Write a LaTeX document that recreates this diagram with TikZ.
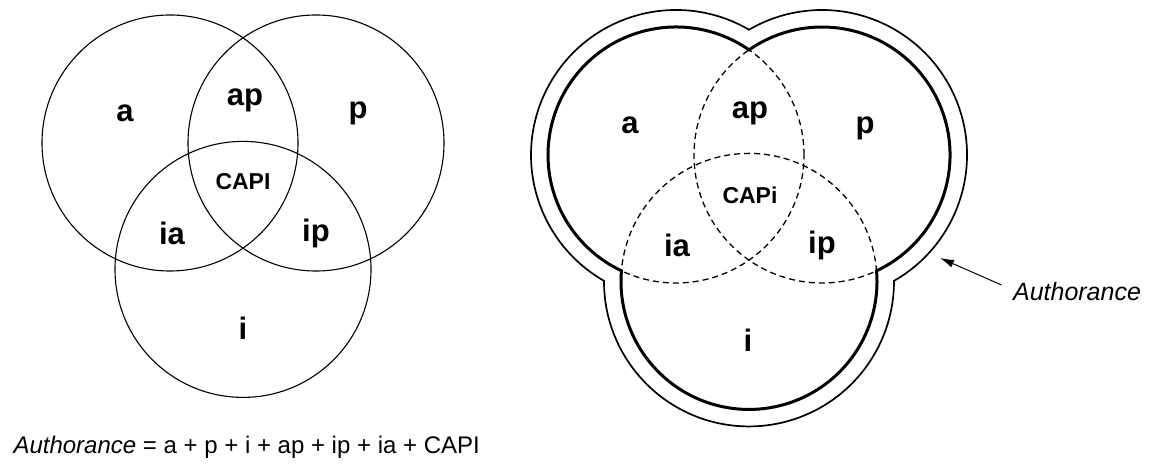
\documentclass[tikz,border=0pt]{standalone}
\usepackage{fontspec}
\setmainfont{Liberation Sans}
\usetikzlibrary{arrows.meta,positioning}

\tikzset{
  region/.style={font=\fontsize{31}{36}\selectfont\bfseries},
  core/.style={font=\fontsize{23}{28}\selectfont\bfseries},
  venn/.style={line width=1.1pt},
  dashvenn/.style={line width=1.3pt, dash pattern=on 6pt off 4pt},
  bound/.style={line width=3pt, line join=miter},
  outerbound/.style={line width=1.7pt, line join=miter},
}

\begin{document}
\begin{tikzpicture}[x=1pt,y=1pt]
\useasboundingbox (0,0) rectangle (1151,465);
% left diagram: three plain circles
\coordinate (la) at (170,322);
\coordinate (lp) at (316,322);
\coordinate (li) at (243,195.6);
\draw[venn] (la) circle[radius=128pt];
\draw[venn] (lp) circle[radius=128pt];
\draw[venn] (li) circle[radius=128pt];
\node[region] (la-lbl) at (125,352) {a};
\node[region] (lap-lbl) at (245,365) {ap};
\node[region] (lp-lbl) at (358,352) {p};
\node[core] (lcapi-lbl) at (243,283) {CAPI};
\node[region] (lia-lbl) at (172,232) {ia};
\node[region] (lip-lbl) at (316,232) {ip};
\node[region] (li-lbl) at (243,137) {i};
% right diagram: dashed circles
\coordinate (ra) at (676,310);
\coordinate (rp) at (822,310);
\coordinate (ri) at (749,183.6);
\draw[dashvenn] (ra) circle[radius=128pt];
\draw[dashvenn] (rp) circle[radius=128pt];
\draw[dashvenn] (ri) circle[radius=128pt];
% the union outline, and its outer copy
\draw[bound] ([shift={(55.22:128pt)}]ra)
  arc[start angle=55.22, end angle=244.78, radius=128pt]
  arc[start angle=175.22, end angle=364.78, radius=128pt]
  arc[start angle=-64.78, end angle=124.78, radius=128pt] -- cycle;
\draw[outerbound] ([shift={(59.77:145pt)}]ra)
  arc[start angle=59.77, end angle=240.23, radius=145pt]
  arc[start angle=179.77, end angle=360.23, radius=145pt]
  arc[start angle=-60.23, end angle=120.23, radius=145pt] -- cycle;
\node[region] (ra-lbl) at (630,340) {a};
\node[region] (rap-lbl) at (750,352) {ap};
\node[region] (rp-lbl) at (865,337) {p};
\node[core] (rcapi-lbl) at (750,270) {CAPi};
\node[region] (ria-lbl) at (677,220) {ia};
\node[region] (rip-lbl) at (822,220) {ip};
\node[region] (ri-lbl) at (748,125) {i};
% pointer
\node[font=\fontsize{25}{30}\selectfont\itshape] (auth) at (1077,173) {Authorance};
\coordinate (tip) at (940,207);
\draw[-{Latex[length=14pt,width=8pt]}, line width=1pt] ([xshift=-8pt,yshift=7pt]auth.west) -- (tip);
% formula
\node[anchor=west, font=\fontsize{24}{28}\selectfont] (sum) at (10,18)
  {\textit{Authorance} = a + p + i + ap + ip + ia + CAPI};
\end{tikzpicture}
\end{document}
